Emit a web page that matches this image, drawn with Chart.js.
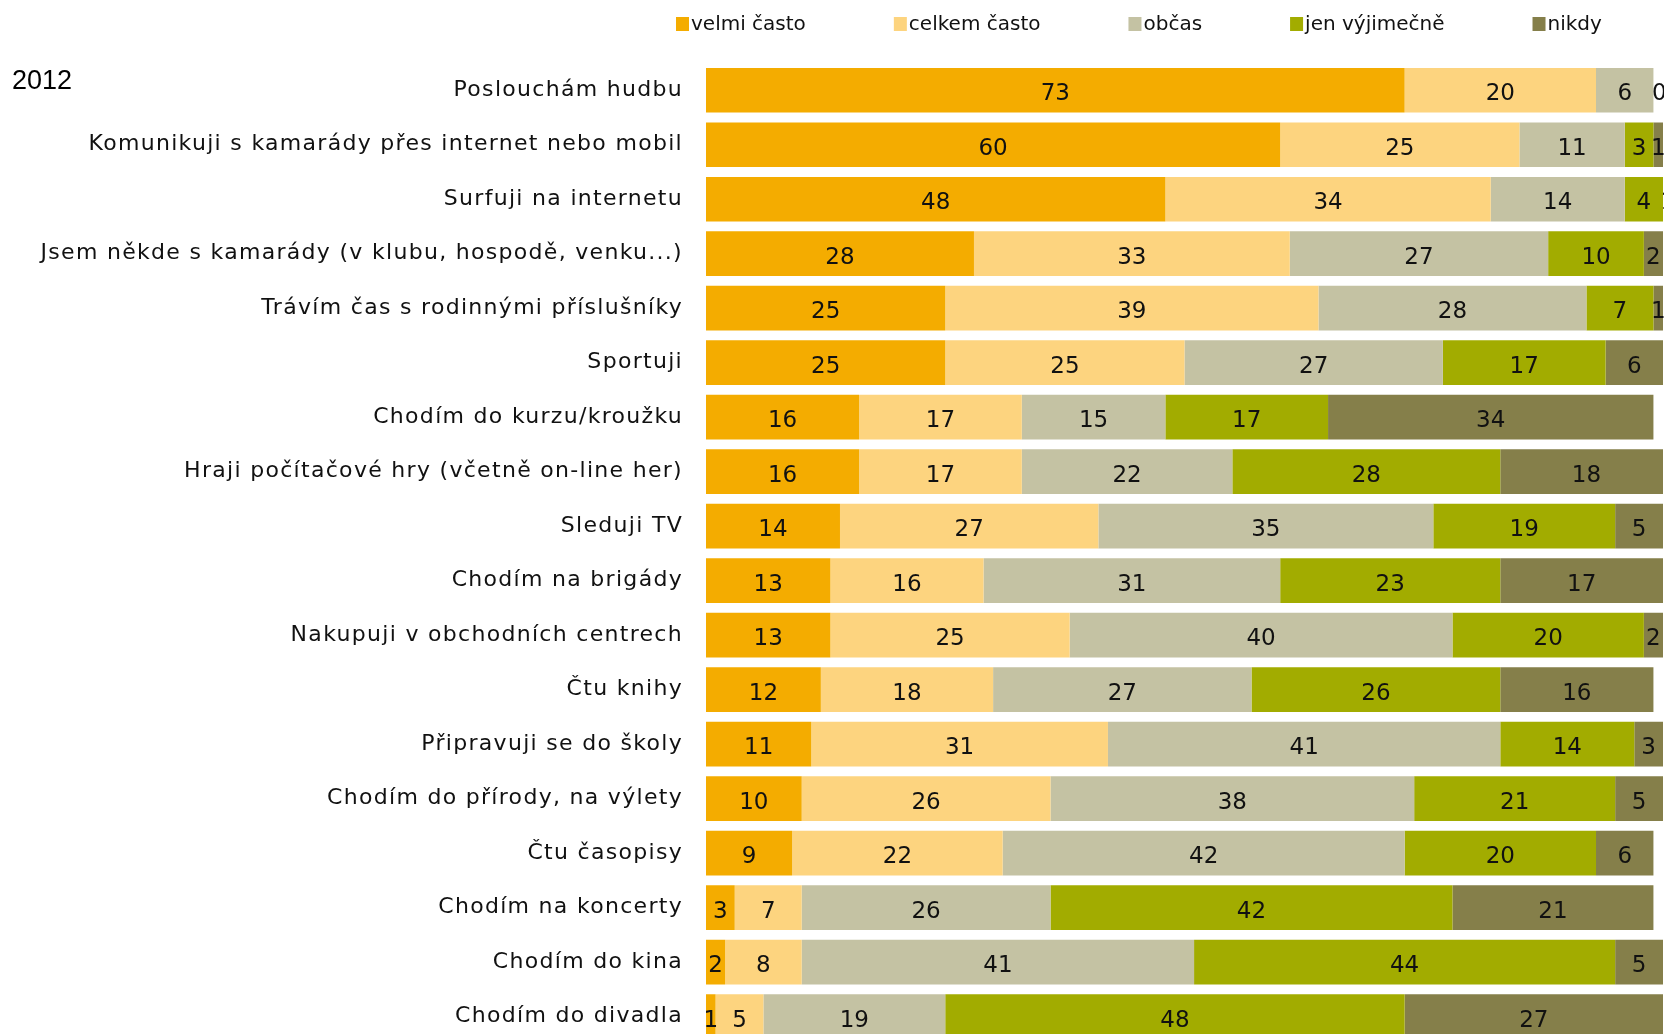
<!DOCTYPE html>
<html>
<head>
<meta charset="utf-8">
<script src="https://cdn.jsdelivr.net/npm/chart.js@4/dist/chart.umd.min.js"></script>
<style>
  body { margin: 0; overflow: hidden; background: #fff; }
  #activityChart { position: absolute; left: 0; top: 0; }
</style>
</head>
<body>
<canvas id="activityChart" width="1664" height="1080"></canvas>
<script>
var activities = [
  "Poslouchám hudbu",
  "Komunikuji s kamarády přes internet nebo mobil",
  "Surfuji na internetu",
  "Jsem někde s kamarády (v klubu, hospodě, venku...)",
  "Trávím čas s rodinnými příslušníky",
  "Sportuji",
  "Chodím do kurzu/kroužku",
  "Hraji počítačové hry (včetně on-line her)",
  "Sleduji TV",
  "Chodím na brigády",
  "Nakupuji v obchodních centrech",
  "Čtu knihy",
  "Připravuji se do školy",
  "Chodím do přírody, na výlety",
  "Čtu časopisy",
  "Chodím na koncerty",
  "Chodím do kina",
  "Chodím do divadla"
];

var veryOften   = [73, 60, 48, 28, 25, 25, 16, 16, 14, 13, 13, 12, 11, 10, 9, 3, 2, 1];
var quiteOften  = [20, 25, 34, 33, 39, 25, 17, 17, 27, 16, 25, 18, 31, 26, 22, 7, 8, 5];
var sometimes   = [6, 11, 14, 27, 28, 27, 15, 22, 35, 31, 40, 27, 41, 38, 42, 26, 41, 19];
var rarely      = [0, 3, 4, 10, 7, 17, 17, 28, 19, 23, 20, 26, 14, 21, 20, 42, 44, 48];
var never       = [null, 1, 1, 2, 1, 6, 34, 18, 5, 17, 2, 16, 3, 5, 6, 21, 5, 27];

var seriesNames = ["velmi často", "celkem často", "občas", "jen výjimečně", "nikdy"];
var seriesColors = ["#F4AC00", "#FDD47F", "#C4C2A3", "#A2AC00", "#857F4A"];
var yearLabel = "2012";

var allSeries = [veryOften, quiteOften, sometimes, rarely, never];

// value labels inside the bars, legend and year caption
var extras = {
  id: 'extras',
  beforeDraw: function(chart) {
    // category labels in the original are spaced out a bit
    chart.ctx.letterSpacing = '1.3px';
  },
  afterDatasetsDraw: function(chart) {
    var ctx = chart.ctx;
    ctx.save();
    ctx.letterSpacing = '0px';
    ctx.font = '23px "DejaVu Sans"';
    ctx.fillStyle = '#111';
    ctx.textAlign = 'center';
    ctx.textBaseline = 'middle';
    chart.data.datasets.forEach(function(ds, i) {
      var meta = chart.getDatasetMeta(i);
      meta.data.forEach(function(bar, j) {
        var v = ds.data[j];
        if (v === null || v === undefined) return;
        var cx = (bar.x + bar.base) / 2;
        if (v === 0) cx = bar.x + 6;
        ctx.fillText(String(v), cx, bar.y + 4);
      });
    });
    ctx.restore();
  },
  afterDraw: function(chart) {
    var ctx = chart.ctx;
    ctx.save();
    ctx.letterSpacing = '0px';
    // legend
    ctx.font = '20px "DejaVu Sans"';
    ctx.textBaseline = 'middle';
    ctx.textAlign = 'left';
    var x = 676;
    chart.data.datasets.forEach(function(ds) {
      ctx.fillStyle = ds.backgroundColor;
      ctx.fillRect(x, 17, 13, 14);
      ctx.fillStyle = '#111';
      ctx.fillText(ds.label, x + 15, 25);
      x += 15 + ctx.measureText(ds.label).width + 88;
    });
    // year
    ctx.font = '27px "Liberation Sans"';
    ctx.fillStyle = '#000';
    ctx.fillText(yearLabel, 12, 82);
    ctx.restore();
  }
};

var chartData = {
  labels: activities,
  datasets: allSeries.map(function(values, i) {
    return {
      label: seriesNames[i],
      data: values,
      backgroundColor: seriesColors[i],
      borderWidth: 0,
      barPercentage: 0.82,
      categoryPercentage: 1
    };
  })
};

var activityChart = new Chart(document.getElementById('activityChart'), {
  type: 'bar',
  data: chartData,
  options: {
    indexAxis: 'y',
    animation: false,
    responsive: false,
    layout: { padding: { top: 63, right: 1, left: 0, bottom: 0 } },
    plugins: {
      legend: { display: false },
      tooltip: { enabled: false }
    },
    scales: {
      x: {
        stacked: true,
        display: false,
        min: 0,
        max: 100
      },
      y: {
        stacked: true,
        grid: { display: false, drawTicks: false },
        border: { display: false },
        afterFit: function(scale) { scale.width = 706; },
        ticks: {
          autoSkip: false,
          padding: 23,
          color: '#111',
          font: { family: '"DejaVu Sans"', size: 22 }
        }
      }
    }
  },
  plugins: [extras]
});
</script>
</body>
</html>
